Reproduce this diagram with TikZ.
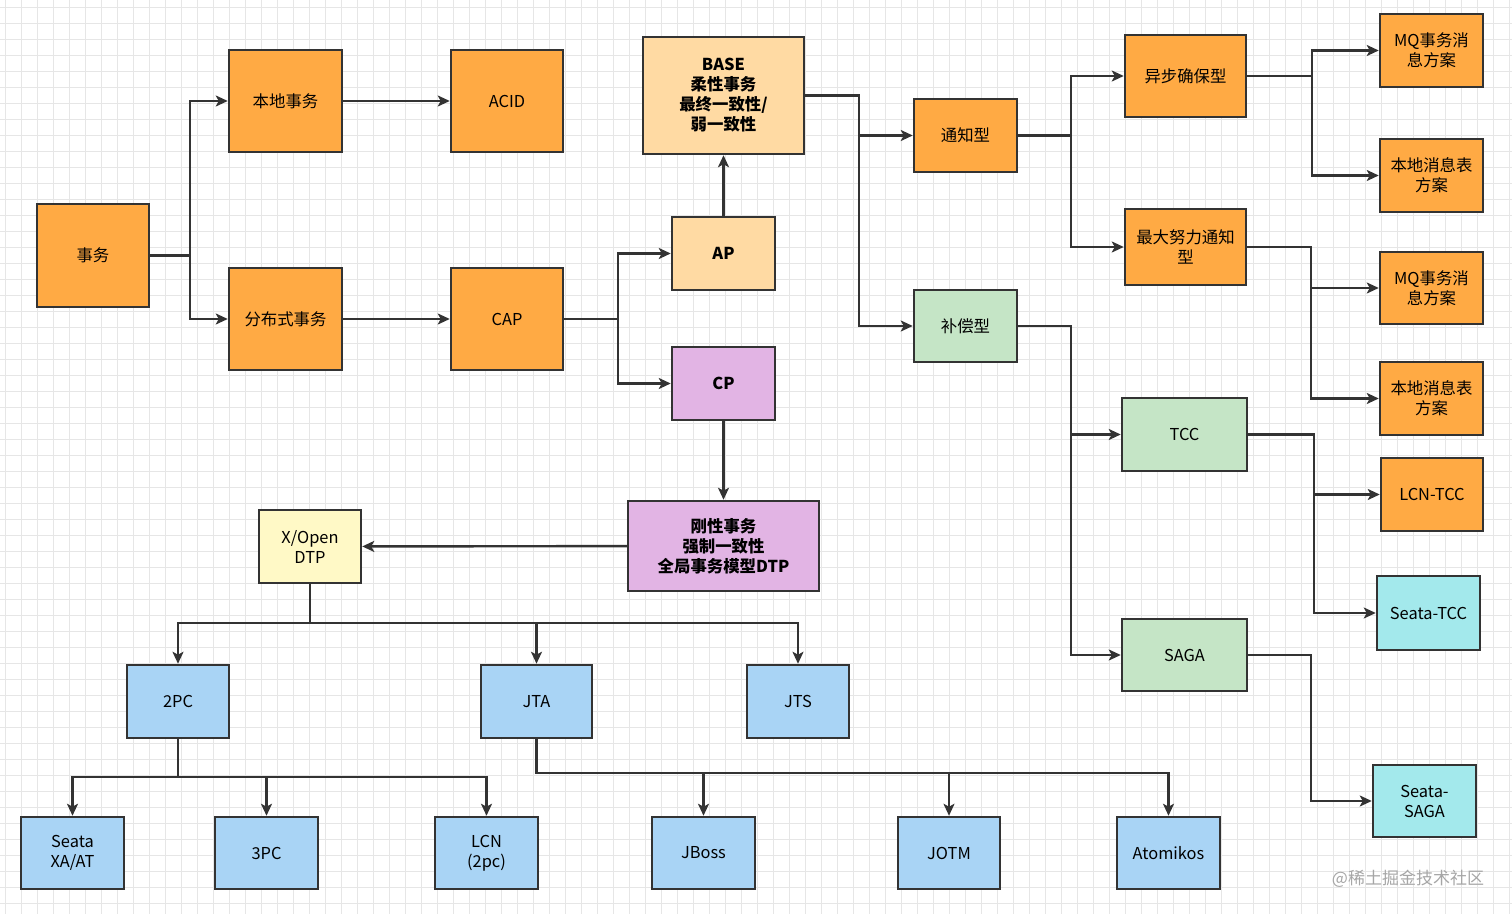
\documentclass[tikz,border=0pt]{standalone}
\usepackage{fontspec}
\newfontfamily\cjk{Noto Sans CJK SC}
\usetikzlibrary{arrows.meta}

\definecolor{edge}{HTML}{333333}
\definecolor{gridc}{HTML}{E6E6E6}
\definecolor{orng}{HTML}{FFAA44}
\definecolor{peach}{HTML}{FFDAA3}
\definecolor{lilac}{HTML}{E2B4E4}
\definecolor{cream}{HTML}{FFF9C6}
\definecolor{sky}{HTML}{A9D4F5}
\definecolor{mint}{HTML}{C5E5C6}
\definecolor{aqua}{HTML}{A3E9EC}

\begin{document}
\begin{tikzpicture} [x = 0.5pt, y = -0.5pt,
    box/.style = {draw = edge,
    line width = 1.25pt,
    align = center,
    inner sep = 0pt,
    font = \cjk\fontsize{8.2}{10}\selectfont},
    strong/.style = {font = \cjk\bfseries\fontsize{8.2}{10}\selectfont},
    sz/.style 2 args = {minimum width = #1*0.5pt, minimum height = #2*0.5pt},
    arr/.style = {draw = edge, line width = 1.2pt,
    -{Stealth[length = 6pt, width = 5.5pt, inset = 1.5pt]}}]

\fill[white] (0,0) rectangle (1512,914);
\useasboundingbox (0,0) rectangle (1512,914);
\foreach \x in {5,21,...,1512} \draw[gridc, line width = 0.35pt] (\x,0) -- (\x,914);
\foreach \y in {7,23,...,914} \draw[gridc, line width = 0.35pt] (0,\y) -- (1512,\y);

% left part
\node (T) at (93,255.5) [box, sz={112}{103}, fill=orng] {事务};
\node (L) at (285.5,101) [box, sz={113}{102}, fill=orng] {本地事务};
\node (ACID) at (507,101) [box, sz={112}{102}, fill=orng] {ACID};
\node (D) at (285.5,319) [box, sz={113}{102}, fill=orng] {分布式事务};
\node (CAP) at (507,319) [box, sz={112}{102}, fill=orng] {CAP};
\node (BASE) at (723.5,95.5) [box, strong, sz={161}{117}, fill=peach] {BASE\\柔性事务\\最终一致性/\\弱一致性};
\node (AP) at (723.5,253.5) [box, strong, sz={103}{73}, fill=peach] {AP};
\node (CP) at (723.5,383.5) [box, strong, sz={103}{73}, fill=lilac] {CP};
\node (R) at (723.5,546) [box, strong, sz={191}{90}, fill=lilac] {刚性事务\\强制一致性\\全局事务模型DTP};
\node (X) at (310,546.5) [box, sz={102}{73}, fill=cream] {X/Open\\DTP};

% DTP implementations
\node (PC2) at (178,701.5) [box, sz={102}{73}, fill=sky] {2PC};
\node (JTA) at (536.5,701.5) [box, sz={111}{73}, fill=sky] {JTA};
\node (JTS) at (798,701.5) [box, sz={102}{73}, fill=sky] {JTS};
\node (SX) at (72.5,853) [box, sz={103}{72}, fill=sky] {Seata\\XA/AT};
\node (PC3) at (266.5,853) [box, sz={103}{72}, fill=sky] {3PC};
\node (LCN) at (486.5,853) [box, sz={103}{72}, fill=sky] {LCN\\(2pc)};
\node (JB) at (703.5,853) [box, sz={103}{72}, fill=sky] {JBoss};
\node (JO) at (949,853) [box, sz={102}{72}, fill=sky] {JOTM};
\node (AT) at (1168.5,853) [box, sz={103}{72}, fill=sky] {Atomikos};

% flexible transactions
\node (N) at (965.5,135.5) [box, sz={103}{73}, fill=orng] {通知型};
\node (C) at (965.5,326) [box, sz={103}{72}, fill=mint] {补偿型};
\node (A) at (1185.5,76) [box, sz={121}{82}, fill=orng] {异步确保型};
\node (B) at (1185.5,247) [box, sz={121}{76}, fill=orng] {最大努力通知\\型};
\node (TCC) at (1184.5,434.5) [box, sz={125}{73}, fill=mint] {TCC};
\node (SAGA) at (1184.5,655) [box, sz={125}{72}, fill=mint] {SAGA};
\node (MQ1) at (1431.5,50.5) [box, sz={103}{73}, fill=orng] {MQ事务消\\息方案};
\node (LM1) at (1431.5,175.5) [box, sz={103}{73}, fill=orng] {本地消息表\\方案};
\node (MQ2) at (1431.5,288) [box, sz={103}{72}, fill=orng] {MQ事务消\\息方案};
\node (LM2) at (1431.5,398.5) [box, sz={103}{73}, fill=orng] {本地消息表\\方案};
\node (LT) at (1432,494.5) [box, sz={102}{73}, fill=orng] {LCN-TCC};
\node (ST) at (1428.5,613) [box, sz={103}{74}, fill=aqua] {Seata-TCC};
\node (SS) at (1424.5,801) [box, sz={103}{72}, fill=aqua] {Seata-\\SAGA};

\node (W) at (1408,879) [font = \cjk\fontsize{8.5}{10}\selectfont, text = gray!70] {@稀土掘金技术社区};

\draw[arr] (T.east) -- ++(40,0) |- (L.west);
\draw[arr] (T.east) -- ++(40,0) |- (D.west);
\draw[arr] (L) -- (ACID);
\draw[arr] (D) -- (CAP);
\draw[arr] (CAP.east) -- ++(54,0) |- (AP.west);
\draw[arr] (CAP.east) -- ++(54,0) |- (CP.west);
\draw[arr] (AP) -- (BASE);
\draw[arr] (CP) -- (R);
\draw[arr] (R) -- (X);

\draw[arr] (X.south) -- ++(0,39) -| (PC2.north);
\draw[arr] (X.south) -- ++(0,39) -| (JTA.north);
\draw[arr] (X.south) -- ++(0,39) -| (JTS.north);
\draw[arr] (PC2.south) -- ++(0,38) -| (SX.north);
\draw[arr] (PC2.south) -- ++(0,38) -| (PC3.north);
\draw[arr] (PC2.south) -- ++(0,38) -| (LCN.north);
\draw[arr] (JTA.south) -- ++(0,34) -| (JB.north);
\draw[arr] (JTA.south) -- ++(0,34) -| (JO.north);
\draw[arr] (JTA.south) -- ++(0,34) -| (AT.north);

\draw[arr] (BASE.east) -- ++(54,0) |- (N.west);
\draw[arr] (BASE.east) -- ++(54,0) |- (C.west);
\draw[arr] (N.east) -- ++(53,0) |- (A.west);
\draw[arr] (N.east) -- ++(53,0) |- (B.west);
\draw[arr] (A.east) -- ++(65,0) |- (MQ1.west);
\draw[arr] (A.east) -- ++(65,0) |- (LM1.west);
\draw[arr] (B.east) -- ++(64,0) |- (MQ2.west);
\draw[arr] (B.east) -- ++(64,0) |- (LM2.west);
\draw[arr] (C.east) -- ++(53,0) |- (TCC.west);
\draw[arr] (C.east) -- ++(53,0) |- (SAGA.west);
\draw[arr] (TCC.east) -- ++(66,0) |- (LT.west);
\draw[arr] (TCC.east) -- ++(66,0) |- (ST.west);
\draw[arr] (SAGA.east) -- ++(63,0) |- (SS.west);

\end{tikzpicture}
\end{document}
